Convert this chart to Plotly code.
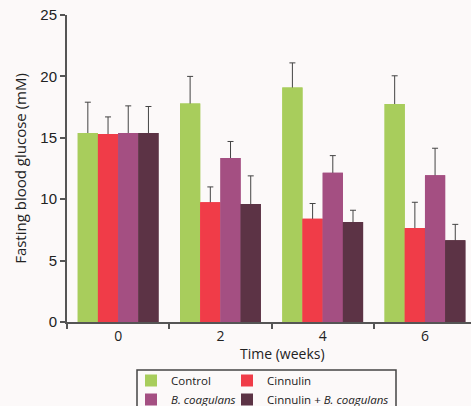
import plotly.graph_objects as go

categories = ["0", "2", "4", "6"]
series_names = ["Control", "Cinnulin", "<i>B. coagulans</i>", "Cinnulin + <i>B. coagulans</i>"]
control = [15.4, 17.8, 19.1, 17.75]
cinnulin = [15.3, 9.75, 8.4, 7.65]
bcoag = [15.4, 13.35, 12.15, 11.95]
combined = [15.4, 9.6, 8.15, 6.65]
control_err = [2.5, 2.2, 2.0, 2.3]
cinnulin_err = [1.4, 1.25, 1.25, 2.1]
bcoag_err = [2.2, 1.35, 1.4, 2.2]
combined_err = [2.15, 2.3, 0.95, 1.3]

values = [control, cinnulin, bcoag, combined]
errors = [control_err, cinnulin_err, bcoag_err, combined_err]
colors = ["#a8cd5c", "#f03c48", "#a44f82", "#5c3345"]
legend_ids = ["legend", "legend2", "legend", "legend2"]

fig = go.Figure()
for i, (name, v, e, c, lg) in enumerate(zip(series_names, values, errors, colors, legend_ids)):
    # bar with upper error whisker
    fig.add_trace(go.Bar(
        x=categories, y=v, name=name, offsetgroup=str(i),
        marker=dict(color=c, line=dict(width=0)),
        error_y=dict(type="data", array=e, arrayminus=[0.15] * len(e), symmetric=False,
                     color="#444444", thickness=1, width=3),
        legend=lg,
    ))
    # same bar drawn again on top so only the upper whisker shows
    fig.add_trace(go.Bar(
        x=categories, y=v, name=name, offsetgroup=str(i),
        marker=dict(color=c, line=dict(width=0)),
        showlegend=False, hoverinfo="skip", legend=lg,
    ))

W, H = 471, 406
L, R, T, B = 67, 0, 15, 84
pw = W - L - R
ph = H - T - B

def px_x(x):
    return (x - L) / pw

def px_y(y):
    return (H - B - y) / ph

legend_font = dict(size=11.5, family="Open Sans", color="#222")

fig.update_layout(
    width=W, height=H,
    margin=dict(l=L, r=R, t=T, b=B, autoexpand=False),
    paper_bgcolor="#fcf9f9", plot_bgcolor="#fcf9f9",
    barmode="group", bargap=0.21, bargroupgap=0,
    showlegend=True,
    font=dict(family="Open Sans", color="#222222"),
    legend=dict(x=px_x(131), y=px_y(366), xanchor="left", yanchor="top",
                bgcolor="rgba(0,0,0,0)", font=legend_font,
                itemsizing="constant", tracegroupgap=0, traceorder="normal"),
    legend2=dict(x=px_x(227), y=px_y(366), xanchor="left", yanchor="top",
                 bgcolor="rgba(0,0,0,0)", font=legend_font,
                 itemsizing="constant", tracegroupgap=0, traceorder="normal"),
    xaxis=dict(
        type="category", range=[-0.5, 3.45], tickson="boundaries",
        ticks="outside", ticklen=5, tickwidth=1.5, tickcolor="#555",
        showline=True, linecolor="#555", linewidth=2,
        tickfont=dict(family="Open Sans", size=14, color="#222"),
        showgrid=False, zeroline=False,
    ),
    yaxis=dict(
        range=[0, 25], tickvals=[0, 5, 10, 15, 20, 25],
        ticks="outside", ticklen=5, tickwidth=1.5, tickcolor="#555",
        showline=True, linecolor="#555", linewidth=2,
        tickfont=dict(family="Liberation Sans", size=15, color="#222"),
        showgrid=False, zeroline=False,
        title=dict(text="Fasting blood glucose (mM)", font=dict(family="Open Sans", size=15, color="#222"), standoff=10),
    ),
    annotations=[dict(
        text="Time (weeks)", xref="paper", yref="paper",
        x=px_x(282), y=px_y(353), xanchor="center", yanchor="middle",
        showarrow=False, font=dict(family="Open Sans", size=14, color="#222"),
    )],
    shapes=[dict(
        type="rect", xref="paper", yref="paper",
        x0=px_x(137), x1=px_x(396), y0=px_y(370), y1=px_y(420),
        line=dict(color="#444", width=1.5), fillcolor="rgba(0,0,0,0)",
    )],
)

fig.write_html("out.html", config={"displayModeBar": False},
               post_script="document.body.style.margin='0';")
